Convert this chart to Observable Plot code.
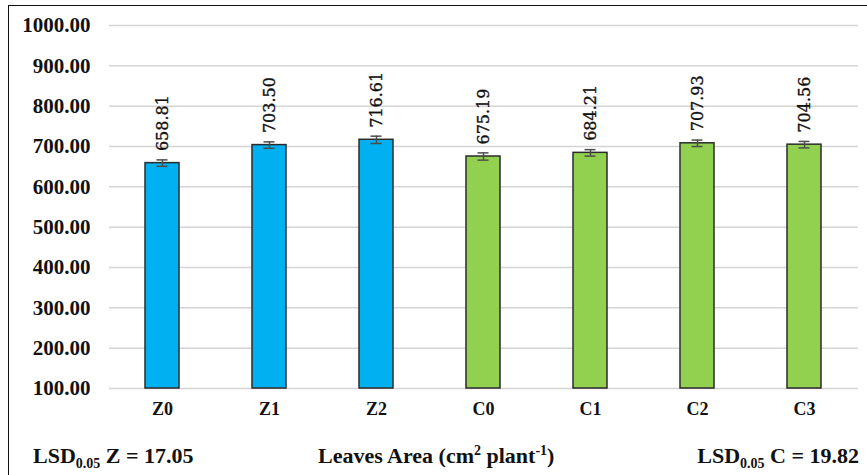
<!DOCTYPE html>
<html>
<head>
<meta charset="utf-8">
<script src="https://cdn.jsdelivr.net/npm/d3@7"></script>
<script src="https://cdn.jsdelivr.net/npm/@observablehq/plot@0.6"></script>
<style>
  html, body { margin: 0; padding: 0; background: #fff; }
  body { width: 867px; height: 475px; position: relative; overflow: hidden; }
  #frame { position: absolute; left: 8px; top: 5px; right: -2px; bottom: -2px;
           border-left: 1.5px solid #111; border-top: 1.5px solid #111; }
  #chart { position: absolute; left: 0; top: 0; }
  .cap { position: absolute; top: 443px; font-family: "Liberation Serif", serif;
         font-weight: bold; font-size: 22px; color: #111; white-space: nowrap; }
  .cap sub, .cap sup { font-size: 14px; line-height: 0; }
</style>
</head>
<body>
<div id="frame"></div>
<div id="chart"></div>
<div class="cap" style="left:33px">LSD<sub>0.05</sub> Z = 17.05</div>
<div class="cap" style="left:318px">Leaves Area (cm<sup>2</sup> plant<sup>-1</sup>)</div>
<div class="cap" style="right:8px">LSD<sub>0.05</sub> C = 19.82</div>
<script>
// Treatments and mean leaf area (cm² plant⁻¹)
const treatments = ["Z0", "Z1", "Z2", "C0", "C1", "C2", "C3"];
const leafArea = [658.81, 703.50, 716.61, 675.19, 684.21, 707.93, 704.56];
const errors = [8, 8, 9, 9, 8, 8, 8];
const groups = ["Z", "Z", "Z", "C", "C", "C", "C"];
const yTicks = [100, 200, 300, 400, 500, 600, 700, 800, 900, 1000];
const yMin = 100;

const data = treatments.map((t, i) => ({
  treatment: t, value: leafArea[i], err: errors[i], group: groups[i]
}));

const serif = "Liberation Serif, serif";

const chart = Plot.plot({
  width: 867,
  height: 430,
  marginLeft: 109,
  marginRight: 9,
  marginTop: 25,
  marginBottom: 42,
  style: { fontFamily: serif, color: "#111", background: "transparent" },
  x: { domain: treatments, paddingInner: 0.68, paddingOuter: 0.34, label: null },
  y: { domain: [yMin, 1000], label: null },
  color: { domain: ["Z", "C"], range: ["#00b0f0", "#92d050"] },
  marks: [
    Plot.gridY(yTicks, { stroke: "#d4d4d4", strokeOpacity: 1, strokeWidth: 1.5 }),
    Plot.axisY(yTicks, { tickSize: 0, tickPadding: 19, tickFormat: d3.format(".2f"),
                         fontSize: 21, fontWeight: "bold", fontFamily: serif, fill: "#111", label: null }),
    Plot.axisX({ tickSize: 0, tickPadding: 14, fontSize: 18, fontWeight: "bold",
                 fontFamily: serif, fill: "#111", label: null }),
    Plot.barY(data, { x: "treatment", y1: () => yMin, y2: "value", fill: "group",
                      stroke: "#2b2b2b", strokeWidth: 1.5 }),
    Plot.ruleX(data, { x: "treatment", y1: d => d.value - d.err, y2: d => d.value + d.err,
                       stroke: "#4d4d4d", strokeWidth: 1.5 }),
    Plot.tickY(data, { x: "treatment", y: d => d.value - d.err, stroke: "#4d4d4d", strokeWidth: 1.5,
                       insetLeft: 11.5, insetRight: 11.5 }),
    Plot.tickY(data, { x: "treatment", y: d => d.value + d.err, stroke: "#4d4d4d", strokeWidth: 1.5,
                       insetLeft: 11.5, insetRight: 11.5 }),
    Plot.text(data, { x: "treatment", y: "value", text: d => d3.format(".2f")(d.value),
                      rotate: -90, textAnchor: "start", dy: -12, fontSize: 16,
                      fill: "#111", stroke: "#111", strokeWidth: 0.35,
                      fontFamily: "DejaVu Serif, serif" })
  ]
});

document.getElementById("chart").appendChild(chart);
</script>
</body>
</html>
